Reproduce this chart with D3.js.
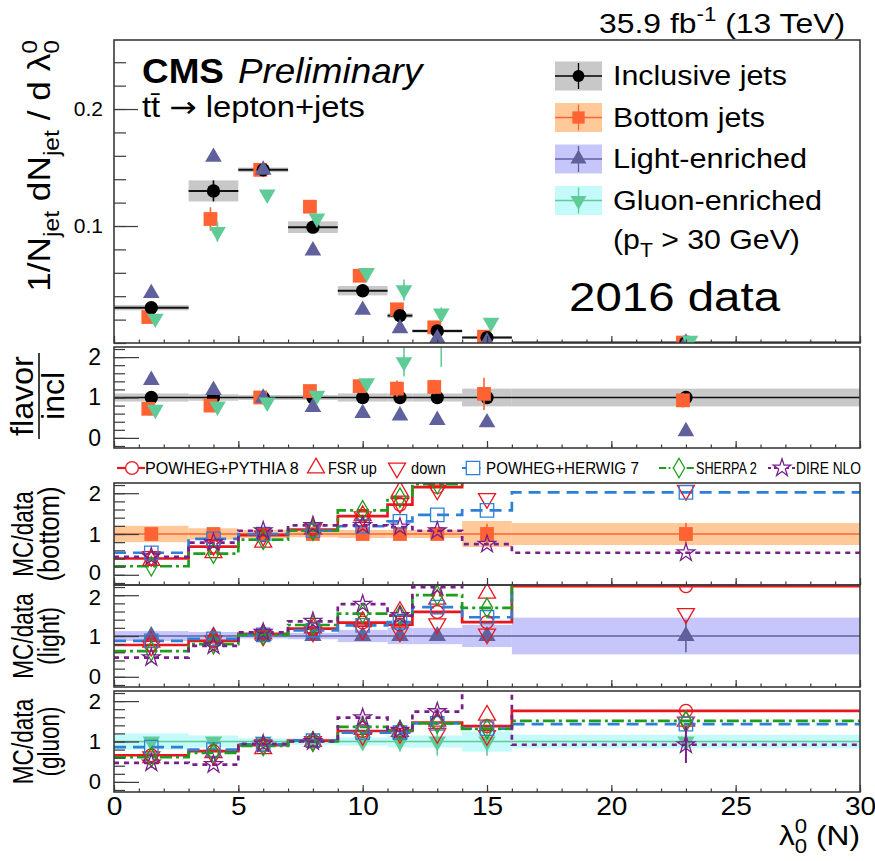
<!DOCTYPE html>
<html><head><meta charset="utf-8">
<script src="https://cdn.jsdelivr.net/npm/d3@7/dist/d3.min.js"></script>
<style>
body{margin:0;background:#fff;}
svg{display:block;font-family:"Liberation Sans",Arial,Helvetica,sans-serif;}
</style>
</head><body>
<svg id="c" width="875" height="861"></svg>
<script>
// ---------------- DATA ----------------
const binEdges   = [0, 3, 5, 7, 9, 11, 12, 14, 16, 30];
const binCenters = [1.5, 4, 6, 8, 10, 11.5, 13, 15, 23];
const xTicks = [0, 5, 10, 15, 20, 25, 30];
const yTicksTop = [0.1, 0.2];
const yTicksRatio = [0, 1, 2];

// top panel: 1/N dN/dlambda
const inclusive    = [0.0302, 0.130, 0.148, 0.099, 0.0447, 0.0234, 0.0103, 0.0046, 0.0004];
const inclusiveUnc = [0.0023, 0.009, 0.002, 0.005, 0.004, 0.002, 0.0015, 0.001, 0.0002];
const bottomJets   = [0.0222, 0.106, 0.148, 0.1165, 0.0575, 0.0288, 0.0134, 0.0054, 0.0004];
const bottomErr    = [0.002, 0.010, 0.002, 0.003, 0.003, 0.003, 0.002, 0.002, 0.0003];
const lightJets    = [0.0425, 0.159, 0.148, 0.079, 0.0282, 0.0125, 0.0040, 0.0011, 0.0001];
const lightErr     = [0.001, 0.003, 0.002, 0.002, 0.002, 0.001, 0.001, 0.001, 0.0002];
const gluonJets    = [0.021, 0.095, 0.127, 0.1065, 0.060, 0.0453, 0.0254, 0.0174, 0.002];
const gluonErr     = [0.003, 0.0085, 0.003, 0.003, 0.003, 0.009, 0.005, 0.004, 0.002];

// flavor / inclusive
const ratioInclUnc   = [0.1, 0.08, 0.06, 0.06, 0.1, 0.1, 0.1, 0.22, 0.22];
const ratioBottom    = [0.72, 0.80, 1.0, 1.16, 1.28, 1.22, 1.26, 1.09, 0.93];
const ratioBottomErr = [0.08, 0.1, 0.05, 0.07, 0.1, 0.2, 0.18, 0.4, 0.18];
const ratioLight     = [1.43, 1.18, 0.99, 0.76, 0.61, 0.55, 0.44, 0.38, 0.16];
const ratioLightErr  = [0.03, 0.03, 0.03, 0.03, 0.03, 0.04, 0.05, 0.05, 0.05];
const ratioGluon     = [0.70, 0.78, 0.88, 1.05, 1.36, 1.88, 2.46, 3.8, 5.0];
const ratioGluonErr  = [0.05, 0.05, 0.05, 0.05, 0.1, 0.36, 0.7, 0.8, 2.0];

// MC / data, bottom jets
const bandBottom    = [0.2, 0.14, 0.1, 0.08, 0.1, 0.1, 0.1, 0.32, 0.27];
const dataErrBottom = [0.12, 0.1, 0.05, 0.05, 0.08, 0.1, 0.1, 0.25, 0.27];
const pythiaBottom  = [0.40, 0.69, 0.97, 1.11, 1.44, 1.72, 2.15, 2.6, 2.8];
const fsrUpBottom   = [0.35, 0.54, 0.80, 1.12, 1.45, 2.05, 2.4, 2.6, 2.9];
const fsrDownBottom = [0.45, 0.72, 0.95, 1.12, 1.42, 1.75, 2.08, 1.87, 2.07];
const herwigBottom  = [0.54, 0.88, 1.0, 1.08, 1.19, 1.31, 1.47, 1.58, 2.02];
const sherpaBottom  = [0.21, 0.52, 0.86, 1.08, 1.58, 1.89, 2.22, 2.6, 2.8];
const direBottom    = [0.44, 0.79, 1.08, 1.21, 1.21, 1.17, 1.08, 0.75, 0.54];

// MC / data, light-enriched
const bandLight    = [0.12, 0.1, 0.06, 0.08, 0.15, 0.2, 0.2, 0.27, 0.45];
const dataErrLight = [0.05, 0.05, 0.03, 0.05, 0.08, 0.1, 0.1, 0.15, 0.4];
const pythiaLight  = [0.78, 0.88, 1.05, 1.18, 1.33, 1.28, 1.59, 1.34, 2.22];
const fsrUpLight   = [0.85, 0.95, 1.05, 1.2, 1.35, 1.6, 1.9, 2.05, 2.6];
const fsrDownLight = [0.75, 0.88, 1.0, 1.1, 1.15, 1.1, 1.3, 1.05, 1.55];
const herwigLight  = [0.88, 0.93, 1.03, 1.14, 1.26, 1.34, 1.71, 1.46, 2.5];
const sherpaLight  = [0.63, 0.80, 1.03, 1.27, 1.55, 1.51, 2.0, 1.69, 2.6];
const direLight    = [0.47, 0.76, 1.09, 1.36, 1.78, 1.5, 2.2, 2.6, 2.8];

// MC / data, gluon-enriched
const bandGluon    = [0.2, 0.15, 0.08, 0.08, 0.1, 0.15, 0.15, 0.25, 0.17];
const dataErrGluon = [0.1, 0.1, 0.05, 0.05, 0.15, 0.25, 0.35, 0.35, 0.15];
const pythiaGluon  = [0.66, 0.76, 0.91, 1.02, 1.26, 1.26, 1.47, 1.38, 1.76];
const fsrUpGluon   = [0.6, 0.72, 0.82, 1.0, 1.3, 1.25, 1.5, 1.65, 1.5];
const fsrDownGluon = [0.62, 0.66, 0.92, 1.0, 1.15, 1.2, 1.2, 1.15, 1.48];
const herwigGluon  = [0.86, 0.80, 0.93, 1.02, 1.22, 1.22, 1.45, 1.32, 1.43];
const sherpaGluon  = [0.61, 0.72, 0.89, 1.0, 1.36, 1.28, 1.45, 1.31, 1.51];
const direGluon    = [0.47, 0.43, 0.94, 1.0, 1.59, 1.28, 1.74, 2.6, 0.92];
const direGluonErr = [0.03, 0.03, 0.03, 0.03, 0.05, 0.05, 0.08, 0.1, 0.45];

const generatorNames = ['POWHEG+PYTHIA 8', 'FSR up', 'down', 'POWHEG+HERWIG 7', 'SHERPA 2', 'DIRE NLO'];
const flavorNames = ['Inclusive jets', 'Bottom jets', 'Light-enriched', 'Gluon-enriched'];

// ---------------- STYLE ----------------
const C = {
  red: '#e8171f', blue: '#2d80d8', green: '#1d9e1d', purple: '#7a1e8c',
  orange: '#ff6233', orangeBand: '#ffc99a',
  slate: '#60609c', slateBand: '#c6c6fa',
  mint: '#5fcc98', mintBand: '#c4fafa',
  grey: '#c8c8c8', frame: '#3a3a3a'
};
const genStyle = [
  {color: C.red,    sym: 'circle',  line: true,  dash: null},
  {color: C.red,    sym: 'tri',     line: false, dash: null},
  {color: C.red,    sym: 'tridown', line: false, dash: null},
  {color: C.blue,   sym: 'square',  line: true,  dash: '12,7'},
  {color: C.green,  sym: 'diamond', line: true,  dash: '12,4,3,4'},
  {color: C.purple, sym: 'star',    line: true,  dash: '5,5'}
];
const symSize = {circle: 130, square: 180, tri: 125, tridown: 125, diamond: 110, star: 95};
const symType = {circle: d3.symbolCircle, square: d3.symbolSquare, tri: d3.symbolTriangle,
                 tridown: d3.symbolTriangle, diamond: d3.symbolDiamond, star: d3.symbolStar};

// ---------------- LAYOUT ----------------
const X0 = 114, X1 = 860;
const x = d3.scaleLinear().domain([0, 30]).range([X0, X1]);
const svg = d3.select('#c');
const defs = svg.append('defs');

function makePanel(key, y0, y1, dom) {
  const y = d3.scaleLinear().domain(dom).range([y1, y0]);
  defs.append('clipPath').attr('id', 'clip-' + key).append('rect')
    .attr('x', X0).attr('y', y0).attr('width', X1 - X0).attr('height', y1 - y0);
  const g = svg.append('g');
  const content = g.append('g').attr('clip-path', `url(#clip-${key})`);
  return {key, y, g, content, y0, y1};
}

function symPath(type, size) { return d3.symbol().type(symType[type]).size(size || symSize[type])(); }

function drawMarkers(g, cls, vals, y, opt) {
  const dx = opt.dx || 0;
  if (opt.err) {
    g.selectAll('line.e' + cls).data(vals).join('line').attr('class', 'e' + cls)
      .attr('x1', (d, i) => x(binCenters[i]) + dx).attr('x2', (d, i) => x(binCenters[i]) + dx)
      .attr('y1', (d, i) => y(d + opt.err[i])).attr('y2', (d, i) => y(d - opt.err[i]))
      .attr('stroke', opt.stroke).attr('stroke-width', opt.ew || 1.6);
  }
  g.selectAll('path.m' + cls).data(vals).join('path').attr('class', 'm' + cls)
    .attr('d', symPath(opt.sym, opt.size))
    .attr('transform', (d, i) => `translate(${x(binCenters[i]) + dx},${y(d)})` + (opt.sym === 'tridown' ? ' rotate(180)' : ''))
    .attr('fill', opt.fill).attr('stroke', opt.stroke).attr('stroke-width', opt.sw || 0);
}

function frame(p) {
  p.g.append('rect').attr('x', X0).attr('y', p.y0).attr('width', X1 - X0).attr('height', p.y1 - p.y0)
    .attr('fill', 'none').attr('stroke', C.frame).attr('stroke-width', 1.6);
}

function xAxis(p, labels) {
  const gMin = p.g.append('g').attr('transform', `translate(0,${p.y1})`)
    .call(d3.axisBottom(x).tickValues(d3.range(0, 31, 1)).tickSize(-3.5).tickFormat(''));
  const gMaj = p.g.append('g').attr('transform', `translate(0,${p.y1})`)
    .call(d3.axisBottom(x).tickValues(xTicks).tickSize(-7).tickPadding(5).tickFormat(labels ? d3.format('d') : ''));
  [gMin, gMaj].forEach(a => {
    a.select('.domain').remove();
    a.selectAll('line').attr('stroke', C.frame).attr('stroke-width', 1.2);
  });
  gMaj.selectAll('text').attr('font-size', 26).attr('fill', '#000')
    .attr('font-family', '"Liberation Sans",Arial,sans-serif').attr('transform', 'scale(1.08,1)');
}

function yAxis(p, major, minor, majLen, minLen, fmt, fs, pad, nudge) {
  const gMin = p.g.append('g').attr('transform', `translate(${X0},0)`)
    .call(d3.axisLeft(p.y).tickValues(minor).tickSize(-minLen).tickFormat(''));
  const gMaj = p.g.append('g').attr('transform', `translate(${X0},0)`)
    .call(d3.axisLeft(p.y).tickValues(major).tickSize(-majLen).tickPadding(pad).tickFormat(fmt));
  [gMin, gMaj].forEach(a => {
    a.select('.domain').remove();
    a.selectAll('line').attr('stroke', C.frame).attr('stroke-width', 1.2);
  });
  gMaj.selectAll('text').attr('font-size', fs).attr('fill', '#000')
    .attr('font-family', '"Liberation Sans",Arial,sans-serif')
    .attr('transform', d => nudge && nudge[d] ? `translate(0,${nudge[d]})` : null);
}

// Text with sub/superscripts, fitted to a measured length
function label(parent, o) {
  const grp = parent.append('g').attr('transform', `translate(${o.x},${o.y})` + (o.rot ? ` rotate(${o.rot})` : ''));
  const t = grp.append('text').attr('text-anchor', o.anchor || 'start').attr('font-size', o.size)
    .attr('font-weight', o.weight || 'normal').attr('font-style', o.style || 'normal').attr('fill', '#000');
  let cur = 0;
  o.parts.forEach(pt => {
    const small = pt.o ? o.size * 0.7 : o.size;
    const off = pt.o === 'sup' ? -0.42 * o.size : pt.o === 'sub' ? 0.3 * o.size : 0;
    const ts = t.append('tspan').text(pt.t).attr('font-size', small).attr('dy', off - cur);
    if (pt.font) ts.attr('font-family', pt.font);
    if (pt.back) ts.attr('dx', -0.556 * small * pt.t.length);
    cur = off;
  });
  if (o.len) {
    const w = t.node().getBBox().width;
    t.attr('transform', `scale(${o.len / w},${o.cross || 1})`);
  } else if (o.cross) {
    t.attr('transform', `scale(1,${o.cross})`);
  }
  return t;
}

// ---------------- PANELS ----------------
const pTop = makePanel('top', 40, 343, [0, 0.259]);
const pRat = makePanel('rat', 347, 448, [-0.25, 2.25]);
const pB = makePanel('mcb', 483, 585, [-0.25, 2.25]);
const pL = makePanel('mcl', 585, 687, [-0.25, 2.25]);
const pG = makePanel('mcg', 691, 792, [-0.25, 2.25]);

// ---- top panel ----
(function () {
  const g = pTop.content, y = pTop.y;
  g.selectAll('rect.band').data(inclusive).join('rect').attr('class', 'band')
    .attr('x', (d, i) => x(binEdges[i])).attr('width', (d, i) => x(binEdges[i + 1]) - x(binEdges[i]))
    .attr('y', (d, i) => y(d + inclusiveUnc[i])).attr('height', (d, i) => y(d - inclusiveUnc[i]) - y(d + inclusiveUnc[i]))
    .attr('fill', C.grey);
  g.selectAll('line.hbar').data(inclusive).join('line').attr('class', 'hbar')
    .attr('x1', (d, i) => x(binEdges[i])).attr('x2', (d, i) => x(binEdges[i + 1]))
    .attr('y1', d => y(d)).attr('y2', d => y(d)).attr('stroke', '#111').attr('stroke-width', 2);
  drawMarkers(g, 'b', bottomJets, y, {sym: 'square', size: 190, fill: C.orange, stroke: C.orange, err: bottomErr, dx: -3});
  drawMarkers(g, 'i', inclusive, y, {sym: 'circle', size: 140, fill: '#000', stroke: '#000', err: inclusiveUnc});
  drawMarkers(g, 'l', lightJets, y, {sym: 'tri', size: 120, fill: C.slate, stroke: C.slate, err: lightErr});
  drawMarkers(g, 'g', gluonJets, y, {sym: 'tridown', size: 120, fill: C.mint, stroke: C.mint, err: gluonErr, dx: 4});
})();

// ---- flavor / incl panel ----
(function () {
  const g = pRat.content, y = pRat.y;
  g.selectAll('rect.band').data(ratioInclUnc).join('rect').attr('class', 'band')
    .attr('x', (d, i) => x(binEdges[i])).attr('width', (d, i) => x(binEdges[i + 1]) - x(binEdges[i]))
    .attr('y', d => y(1 + d)).attr('height', d => y(1 - d) - y(1 + d)).attr('fill', C.grey);
  g.append('line').attr('x1', x(0)).attr('x2', x(30)).attr('y1', y(1)).attr('y2', y(1))
    .attr('stroke', '#111').attr('stroke-width', 1.6);
  drawMarkers(g, 'i', binCenters.map(() => 1), y, {sym: 'circle', size: 140, fill: '#000', stroke: '#000'});
  drawMarkers(g, 'b', ratioBottom, y, {sym: 'square', size: 190, fill: C.orange, stroke: C.orange, err: ratioBottomErr, dx: -3});
  drawMarkers(g, 'l', ratioLight, y, {sym: 'tri', size: 120, fill: C.slate, stroke: C.slate, err: ratioLightErr});
  drawMarkers(g, 'g', ratioGluon, y, {sym: 'tridown', size: 120, fill: C.mint, stroke: C.mint, err: ratioGluonErr, dx: 4});
})();

// ---- MC / data panels ----
function mcPanel(p, band, dataErr, dataColor, bandColor, dataSym, gens, genErrs) {
  const g = p.content, y = p.y;
  g.selectAll('rect.band').data(band).join('rect').attr('class', 'band')
    .attr('x', (d, i) => x(binEdges[i])).attr('width', (d, i) => x(binEdges[i + 1]) - x(binEdges[i]))
    .attr('y', d => y(1 + d)).attr('height', d => y(1 - d) - y(1 + d)).attr('fill', bandColor);
  g.append('line').attr('x1', x(0)).attr('x2', x(30)).attr('y1', y(1)).attr('y2', y(1))
    .attr('stroke', dataColor).attr('stroke-width', 1.3);
  drawMarkers(g, 'd', binCenters.map(() => 1), y, {sym: dataSym, size: dataSym === 'square' ? 190 : 130,
    fill: dataColor, stroke: dataColor, err: dataErr});
  const line = d3.line().x(d => x(d[0])).y(d => y(d[1]));
  gens.forEach((vals, k) => {
    const st = genStyle[k];
    if (!st.line) return;
    const pts = [];
    vals.forEach((v, i) => { pts.push([binEdges[i], v]); pts.push([binEdges[i + 1], v]); });
    g.append('path').attr('d', line(pts)).attr('fill', 'none').attr('stroke', st.color)
      .attr('stroke-width', 2.7).attr('stroke-dasharray', st.dash);
  });
  gens.forEach((vals, k) => {
    const st = genStyle[k];
    drawMarkers(g, 'g' + k, vals, y, {sym: st.sym, fill: 'none', stroke: st.color, sw: 1.3,
      err: genErrs && genErrs[k] ? genErrs[k] : null, ew: 2});
  });
}
mcPanel(pB, bandBottom, dataErrBottom, C.orange, C.orangeBand, 'square',
  [pythiaBottom, fsrUpBottom, fsrDownBottom, herwigBottom, sherpaBottom, direBottom]);
mcPanel(pL, bandLight, dataErrLight, C.slate, C.slateBand, 'tri',
  [pythiaLight, fsrUpLight, fsrDownLight, herwigLight, sherpaLight, direLight]);
mcPanel(pG, bandGluon, dataErrGluon, C.mint, C.mintBand, 'tridown',
  [pythiaGluon, fsrUpGluon, fsrDownGluon, herwigGluon, sherpaGluon, direGluon],
  [null, null, null, null, null, direGluonErr]);

// frames & axes
[pTop, pRat, pB, pL, pG].forEach(frame);
yAxis(pTop, yTicksTop, d3.range(0, 0.26, 0.02), 24, 12, d3.format('.1f'), 21, 11);
yAxis(pRat, yTicksRatio, d3.range(-0.2, 2.3, 0.2), 25, 11, d3.format('d'), 23, 13);
yAxis(pB, yTicksRatio, d3.range(-0.2, 2.3, 0.2), 25, 11, d3.format('d'), 22, 13, {0: -2});
yAxis(pL, yTicksRatio, d3.range(-0.2, 2.3, 0.2), 25, 11, d3.format('d'), 22, 13, {2: 2});
yAxis(pG, yTicksRatio, d3.range(-0.2, 2.3, 0.2), 25, 11, d3.format('d'), 22, 13);
xAxis(pTop, false); xAxis(pRat, false); xAxis(pB, false); xAxis(pL, false); xAxis(pG, true);

// ---------------- TEXT ----------------
const T = svg.append('g');
label(T, {x: 845, y: 33, anchor: 'end', size: 28, len: 246, parts: [{t: '35.9 fb'}, {t: '-1', o: 'sup'}, {t: ' (13 TeV)'}]});
label(T, {x: 142, y: 83, size: 35, weight: 'bold', len: 82, parts: [{t: 'CMS'}]});
label(T, {x: 238, y: 83, size: 35, style: 'italic', len: 187, parts: [{t: 'Preliminary'}]});
label(T, {x: 142, y: 117, size: 29, len: 223,
  parts: [{t: 'tt\u0304 '}, {t: '\u2192', font: '"DejaVu Sans", sans-serif'}, {t: ' lepton+jets'}]});
label(T, {x: 569, y: 311, size: 40, len: 212, parts: [{t: '2016 data'}]});

// top legend
const legRows = [76, 117.5, 159, 200.5];
const legStyle = [
  {band: C.grey, col: '#000', sym: 'circle', size: 110},
  {band: C.orangeBand, col: C.orange, sym: 'square', size: 150},
  {band: C.slateBand, col: C.slate, sym: 'tri', size: 110},
  {band: C.mintBand, col: C.mint, sym: 'tridown', size: 110}
];
const legLens = [174, 152, 194, 209];
const L = svg.append('g');
flavorNames.forEach((name, i) => {
  const cy = legRows[i], st = legStyle[i];
  L.append('rect').attr('x', 555).attr('y', cy - 14.5).attr('width', 47).attr('height', 29).attr('fill', st.band);
  L.append('line').attr('x1', 555).attr('x2', 602).attr('y1', cy).attr('y2', cy).attr('stroke', st.col).attr('stroke-width', 1.3);
  L.append('line').attr('x1', 578.5).attr('x2', 578.5).attr('y1', cy - 13).attr('y2', cy + 13).attr('stroke', st.col).attr('stroke-width', 1.3);
  L.append('path').attr('d', symPath(st.sym, st.size)).attr('transform', `translate(578.5,${cy})` + (st.sym === 'tridown' ? ' rotate(180)' : ''))
    .attr('fill', st.col);
  label(L, {x: 613, y: cy + 9, size: 28, len: legLens[i], parts: [{t: name}]});
});
label(L, {x: 613, y: 249, size: 28, len: 187, parts: [{t: '(p'}, {t: 'T', o: 'sub'}, {t: ' > 30 GeV)'}]});

// MC legend
const mcLeg = [
  {mx: 132, lx1: 117, lx2: 145, tx: 145, len: 154},
  {mx: 316, tx: 328, len: 49},
  {mx: 397, tx: 411, len: 35},
  {mx: 473, lx1: 462, lx2: 485, tx: 486, len: 153},
  {mx: 679, lx1: 659, lx2: 695, tx: 696, len: 61},
  {mx: 782, lx1: 768, lx2: 795, tx: 796, len: 65}
];
const ML = svg.append('g');
generatorNames.forEach((name, k) => {
  const st = genStyle[k], lg = mcLeg[k], cy = 468;
  if (st.line) ML.append('line').attr('x1', lg.lx1).attr('x2', lg.lx2).attr('y1', cy).attr('y2', cy)
    .attr('stroke', st.color).attr('stroke-width', 2.2).attr('stroke-dasharray', st.dash ? st.dash.split(',').map(v => v * 0.6).join(',') : null);
  ML.append('path').attr('d', symPath(st.sym)).attr('transform', `translate(${lg.mx},${cy})` + (st.sym === 'tridown' ? ' rotate(180)' : ''))
    .attr('fill', '#fff').attr('stroke', st.color).attr('stroke-width', 1.3);
  label(ML, {x: lg.tx, y: 474, size: 16, len: lg.len, parts: [{t: name}]});
});

// axis titles
label(T, {x: 860, y: 845, anchor: 'end', size: 28, len: 81, parts: [{t: '\u03bb'}, {t: '0', o: 'sup'}, {t: '0', o: 'sub', back: true}, {t: ' (N)'}]});
label(T, {x: 50, y: 40, rot: -90, anchor: 'end', size: 28, len: 252, cross: 1.1,
  parts: [{t: '1/N'}, {t: 'jet', o: 'sub'}, {t: ' dN'}, {t: 'jet', o: 'sub'}, {t: ' / d \u03bb'}, {t: '0', o: 'sup'}, {t: '0', o: 'sub', back: true}]});
label(T, {x: 33, y: 396, rot: -90, anchor: 'middle', size: 28, len: 80, cross: 1.1, parts: [{t: 'flavor'}]});
T.append('line').attr('x1', 39).attr('x2', 39).attr('y1', 353).attr('y2', 439).attr('stroke', '#000').attr('stroke-width', 1.5);
label(T, {x: 64, y: 396, rot: -90, anchor: 'middle', size: 28, len: 48, cross: 1.1, parts: [{t: 'incl'}]});
[[pB, '(bottom)', 95], [pL, '(light)', 58], [pG, '(gluon)', 70]].forEach(([p, sub, len]) => {
  const cy = (p.y0 + p.y1) / 2;
  label(T, {x: 33, y: cy, rot: -90, anchor: 'middle', size: 26, len: 86, cross: 1.1, parts: [{t: 'MC/data'}]});
  label(T, {x: 59, y: cy, rot: -90, anchor: 'middle', size: 26, len: len, cross: 1.1, parts: [{t: sub}]});
});
</script>
</body></html>
